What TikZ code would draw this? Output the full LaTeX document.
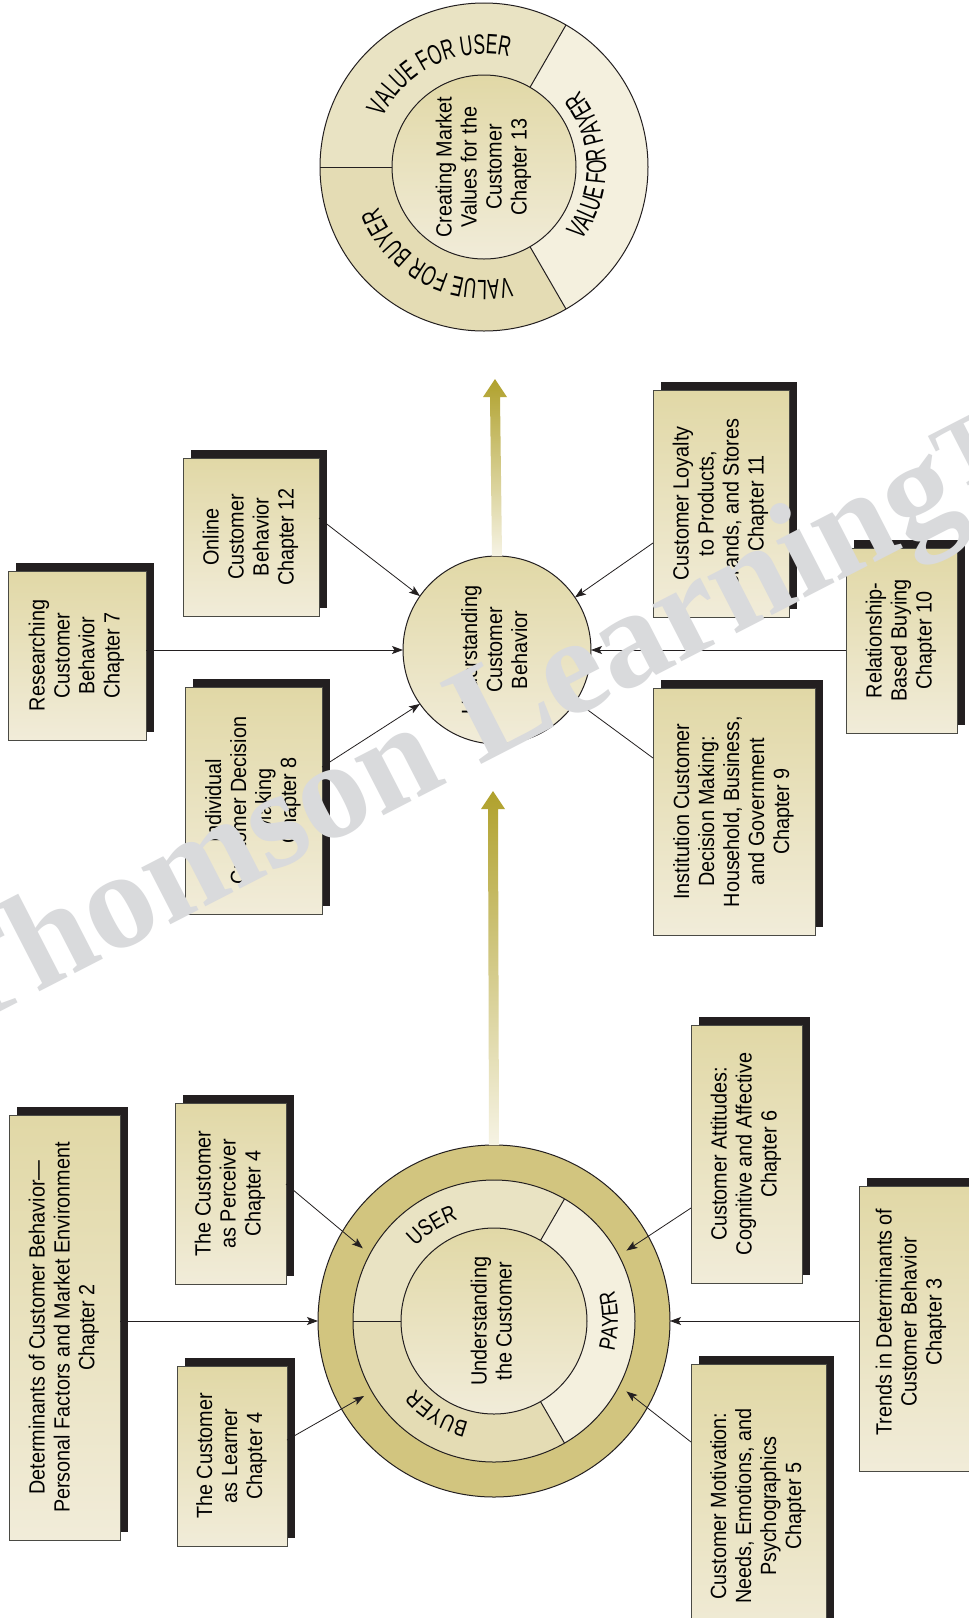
\documentclass[tikz,border=0pt]{standalone}
\usepackage{graphicx}
\usepackage{fontspec}
\setmainfont{Liberation Sans}
\newfontfamily\bxfont{Liberation Sans}[FakeStretch=0.9]
\newfontfamily\arcfnt{Liberation Sans}[FakeStretch=0.62]
\newfontfamily\ringfnt{Liberation Sans}[FakeStretch=0.8]
\newfontfamily\wmfont{Liberation Serif}
\usetikzlibrary{arrows.meta,shadows,decorations.text,calc}
\definecolor{boxtop}{HTML}{E1D8A6}
\definecolor{boxbot}{HTML}{F1ECD9}
\definecolor{boxline}{HTML}{4A4A44}
\definecolor{shadowc}{HTML}{231F20}
\definecolor{ringc}{HTML}{D2C57F}
\definecolor{userc}{HTML}{E9E3C3}
\definecolor{buyerc}{HTML}{E4DCB4}
\definecolor{payerc}{HTML}{F4F0DE}
\definecolor{arrtop}{HTML}{B0A12C}
\definecolor{arrbot}{HTML}{F6F3E4}
\definecolor{wmc}{HTML}{D9DADC}
\definecolor{linec}{HTML}{231F20}
\newcommand{\rt}[1]{\rotatebox{90}{\begin{tabular}{@{}c@{}}#1\end{tabular}}}
\tikzset{
  box/.style={draw=boxline, line width=0.9pt, top color=boxtop, bottom color=boxbot,
    inner sep=0pt, outer sep=0pt,
    drop shadow={shadow xshift=8pt, shadow yshift=8pt, fill=shadowc, opacity=1},
    font=\bxfont\fontsize{22}{25}\selectfont},
  plaintext/.style={inner sep=0pt, font=\bxfont\fontsize{22}{25}\selectfont},
  disc/.style={circle, draw=linec, line width=1pt, top color=boxtop, bottom color=boxbot,
    inner sep=0pt, outer sep=0pt, font=\bxfont\fontsize{22}{25}\selectfont},
  conn/.style={draw=linec, line width=0.8pt, -{Stealth[length=11pt,width=8pt,inset=2.5pt]}},
  ringline/.style={draw=linec, line width=1pt},
  wm/.style={text=wmc, inner sep=0pt, font=\wmfont\bfseries\fontsize{139}{139}\selectfont}
}
\begin{document}
\begin{tikzpicture}[x=1pt,y=1pt]
\useasboundingbox (0,0) rectangle (969,-1618);
\clip (0,0) rectangle (969,-1618);
\fill[white] (0,0) rectangle (969,-1618);

% ---------- top circle: creating market values ----------
\node[circle, inner sep=0pt, minimum size=328pt] (cmv) at (484,-167) {};
\fill[userc] ($(cmv)+(60:164)$) arc[start angle=60,end angle=180,radius=164] -- ($(cmv)+(180:92)$) arc[start angle=180,end angle=60,radius=92] -- cycle;
\fill[buyerc] ($(cmv)+(180:164)$) arc[start angle=180,end angle=300,radius=164] -- ($(cmv)+(300:92)$) arc[start angle=300,end angle=180,radius=92] -- cycle;
\fill[payerc] ($(cmv)+(-60:164)$) arc[start angle=-60,end angle=60,radius=164] -- ($(cmv)+(60:92)$) arc[start angle=60,end angle=-60,radius=92] -- cycle;
\draw[ringline] (cmv) circle[radius=164];
\draw[ringline] ($(cmv)+(60:92)$) -- ($(cmv)+(60:164)$);
\draw[ringline] ($(cmv)+(-60:92)$) -- ($(cmv)+(-60:164)$);
\draw[ringline] ($(cmv)+(180:92)$) -- ($(cmv)+(180:164)$);
\node[disc, minimum size=184pt] (cmvin) at (cmv) {\rt{Creating Market\\Values for the\\Customer\\Chapter 13}};
\path[decorate, decoration={text along path, text align=center,
  text={|\arcfnt\fontsize{28}{28}\selectfont|VALUE FOR USER}}]
  ($(cmv)+(165:113)$) arc[start angle=165,end angle=66,radius=113];
\path[decorate, decoration={text along path, text align=center,
  text={|\arcfnt\fontsize{28}{28}\selectfont|VALUE FOR PAYER}}]
  ($(cmv)+(-50:122)$) arc[start angle=-50,end angle=52,radius=122];
\path[decorate, decoration={text along path, text align=center,
  text={|\arcfnt\fontsize{28}{28}\selectfont|VALUE FOR BUYER}}]
  ($(cmv)+(-68:113)$) arc[start angle=-68,end angle=-168,radius=113];

% ---------- middle node ----------
\node[disc, minimum size=188pt] (ucb) at (497,-650) {\rt{Understanding\\Customer\\Behavior}};

% ---------- bottom circle ----------
\node[circle, draw=linec, line width=1pt, fill=ringc, minimum size=352pt, inner sep=0pt, outer sep=0pt] (cust) at (494,-1321) {};
\fill[userc] ($(cust)+(60:141)$) arc[start angle=60,end angle=180,radius=141] -- ($(cust)+(180:93)$) arc[start angle=180,end angle=60,radius=93] -- cycle;
\fill[buyerc] ($(cust)+(180:141)$) arc[start angle=180,end angle=300,radius=141] -- ($(cust)+(300:93)$) arc[start angle=300,end angle=180,radius=93] -- cycle;
\fill[payerc] ($(cust)+(-60:141)$) arc[start angle=-60,end angle=60,radius=141] -- ($(cust)+(60:93)$) arc[start angle=60,end angle=-60,radius=93] -- cycle;
\draw[ringline] (cust) circle[radius=141];
\draw[ringline] ($(cust)+(60:93)$) -- ($(cust)+(60:141)$);
\draw[ringline] ($(cust)+(-60:93)$) -- ($(cust)+(-60:141)$);
\draw[ringline] ($(cust)+(180:93)$) -- ($(cust)+(180:141)$);
\node[disc, minimum size=186pt] (custin) at (cust) {\rt{Understanding\\the Customer}};
\path[decorate, decoration={text along path, text align=center,
  text={|\ringfnt\fontsize{23}{23}\selectfont|USER}}]
  ($(cust)+(168:108)$) arc[start angle=168,end angle=78,radius=108];
\path[decorate, decoration={text along path, text align=center,
  text={|\ringfnt\fontsize{23}{23}\selectfont|BUYER}}]
  ($(cust)+(-76:104)$) arc[start angle=-76,end angle=-167,radius=104];
\path[decorate, decoration={text along path, text align=center,
  text={|\ringfnt\fontsize{23}{23}\selectfont|PAYER}}]
  ($(cust)+(-45:124)$) arc[start angle=-45,end angle=45,radius=124];
\node[circle, inner sep=0pt, outer sep=0pt, minimum size=300pt] (tipring) at (cust) {};

% ---------- gradient arrows ----------
\coordinate (toptip) at (495,-379);
\coordinate (midtip) at (493,-791);
\shade[top color=arrtop, bottom color=arrbot]
  ([xshift=-5pt]ucb.north) -- ([xshift=-5pt,yshift=-18pt]toptip) -- ([xshift=-12pt,yshift=-18pt]toptip) -- (toptip)
  -- ([xshift=12pt,yshift=-18pt]toptip) -- ([xshift=5pt,yshift=-18pt]toptip) -- ([xshift=5pt]ucb.north) -- cycle;
\shade[top color=arrtop, bottom color=arrbot]
  ([xshift=-5pt]cust.north) -- ([xshift=-5pt,yshift=-18pt]midtip) -- ([xshift=-12pt,yshift=-18pt]midtip) -- (midtip)
  -- ([xshift=12pt,yshift=-18pt]midtip) -- ([xshift=5pt,yshift=-18pt]midtip) -- ([xshift=5pt]cust.north) -- cycle;

% ---------- boxes around middle node ----------
\node[box, minimum width=138pt, minimum height=169pt] (res) at (77,-655.5) {\rt{Researching\\Customer\\Behavior\\Chapter 7}};
\node[box, minimum width=136pt, minimum height=158pt] (onl) at (251,-537) {\rt{Online\\Customer\\Behavior\\Chapter 12}};
\node[box, minimum width=137pt, minimum height=227pt] (ind) at (253.5,-800.5) {\rt{Individual\\Customer Decision\\Making\\Chapter 8}};
\node[box, minimum width=136pt, minimum height=227pt] (loy) at (721,-503.5) {\rt{Customer Loyalty\\to Products,\\Brands, and Stores\\Chapter 11}};
\node[box, minimum width=111pt, minimum height=185pt] (rel) at (901.5,-640.5) {\rt{Relationship-\\Based Buying\\Chapter 10}};
\node[box, minimum width=162pt, minimum height=247pt] (inst) at (734,-811.5) {\rt{Institution Customer\\Decision Making:\\Household, Business,\\and Government\\Chapter 9}};

% ---------- boxes around bottom circle ----------
\node[box, minimum width=111pt, minimum height=425pt] (det) at (64.5,-1327.5) {\rt{Determinants of Customer Behavior—\\Personal Factors and Market Environment\\Chapter 2}};
\node[box, minimum width=111pt, minimum height=181pt] (perc) at (230.5,-1193.5) {\rt{The Customer\\as Perceiver\\Chapter 4}};
\node[box, minimum width=110pt, minimum height=180pt] (learn) at (232,-1456) {\rt{The Customer\\as Learner\\Chapter 4}};
\node[box, minimum width=111pt, minimum height=258pt] (att) at (746.5,-1154) {\rt{Customer Attitudes:\\Cognitive and Affective\\Chapter 6}};
\node[box, minimum width=130pt, minimum height=285pt] (trends) at (924,-1328.5) {};
\node[plaintext] (trendstext) at (911.5,-1322) {\rt{Trends in Determinants of\\Customer Behavior\\Chapter 3}};
\node[box, minimum width=135pt, minimum height=284pt] (mot) at (758.5,-1506) {\rt{Customer Motivation:\\Needs, Emotions, and\\Psychographics\\Chapter 5}};

% ---------- connectors ----------
\draw[conn] (res.east |- ucb.west) -- (ucb.west);
\draw[conn] ([yshift=-60pt]onl.north east) -- (ucb.145);
\draw[conn] ([yshift=-80pt]ind.north east) -- (ucb.-145);
\draw[conn] ([yshift=74pt]loy.south west) -- (ucb.34);
\draw[conn] (rel.west |- ucb.east) -- (ucb.east);
\draw[conn] ([yshift=-70pt]inst.north west) -- (ucb.-33);

\draw[conn] (det.east |- cust.west) -- (cust.west);
\draw[conn] ([yshift=-81pt]perc.north east) -- (tipring.151.5);
\draw[conn] ([yshift=-74pt]learn.north east) -- (tipring.-150);
\draw[conn] ([yshift=75pt]att.south west) -- (tipring.28.2);
\draw[conn] ([yshift=-78pt]mot.north west) -- (tipring.-28.8);
\draw[conn] (trends.west |- cust.east) -- (cust.east);

% ---------- watermark ----------
\node[wm, rotate=27.2, anchor=base west] (wmk) at (-46,-1036) {Thomson Learning\raisebox{26pt}{\fontsize{95}{95}\selectfont TM}};
\end{tikzpicture}
\end{document}
